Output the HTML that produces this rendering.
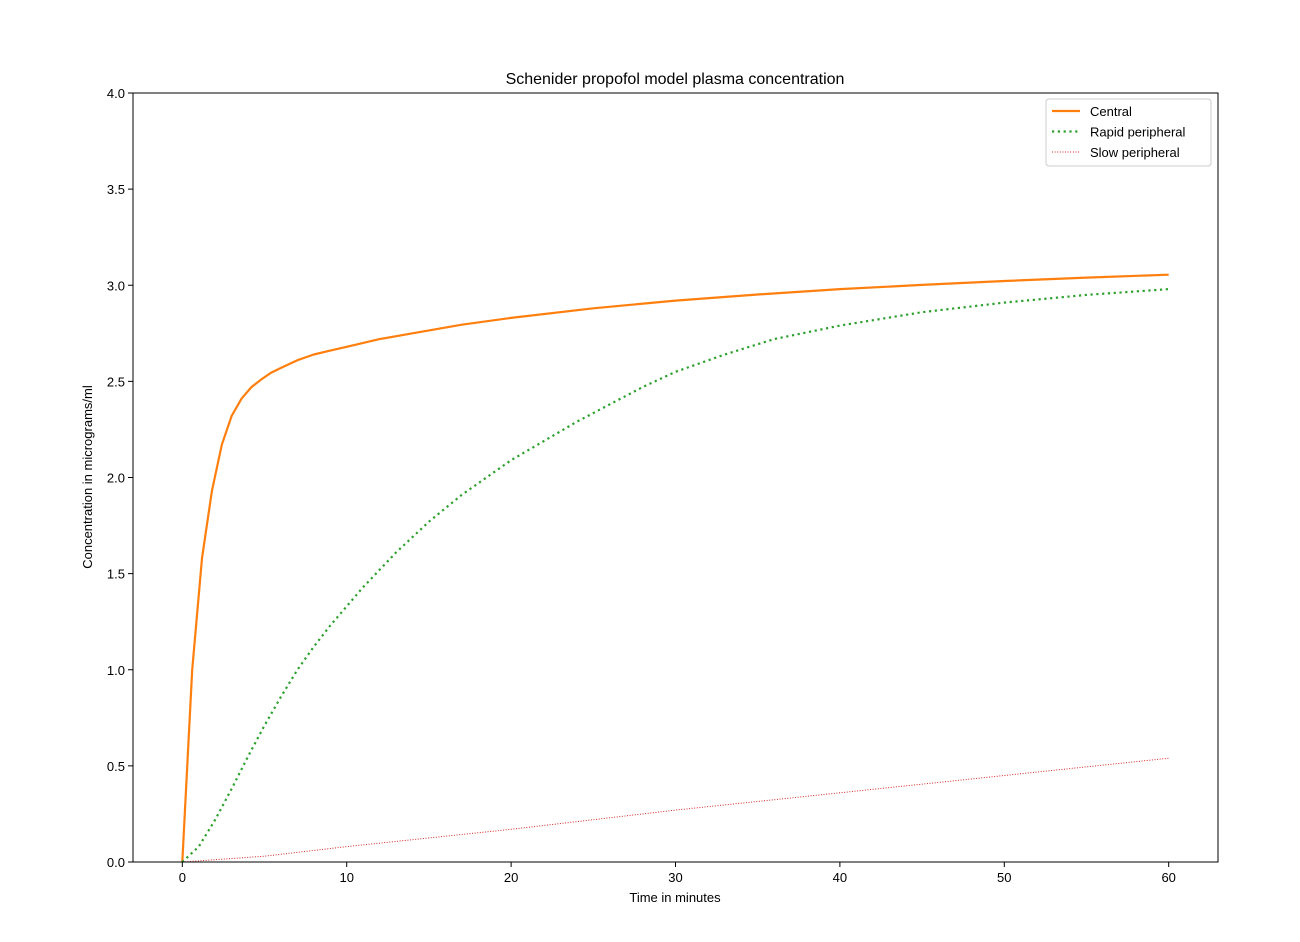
<!DOCTYPE html>
<html><head><meta charset="utf-8"><style>
body{margin:0;background:#fff}
svg text{font-family:"Liberation Sans","DejaVu Sans",sans-serif;fill:#000}
</style></head><body>
<svg id="chart" width="1300" height="937" xmlns="http://www.w3.org/2000/svg">
<rect width="1300" height="937" fill="#fff"/>
<g id="series"></g>
<g id="axes"></g>
</svg>
<script>
const xTicks=[0,10,20,30,40,50,60];
const yTicks=[0.0,0.5,1.0,1.5,2.0,2.5,3.0,3.5,4.0];
const centralT=[0,0.6,1.2,1.8,2.4,3,3.6,4.2,4.8,5.4,6,7,8,9,10,12,14,17,20,25,30,35,40,45,50,55,60];
const centralV=[0,1.0,1.58,1.93,2.17,2.32,2.41,2.47,2.51,2.545,2.57,2.61,2.64,2.66,2.68,2.72,2.75,2.795,2.83,2.88,2.92,2.952,2.98,3.002,3.022,3.04,3.055];
const rapidT=[0,1,2,3,4,5,6,7,8,9,10,11,12,13,14,15,16,17,18,19,20,22,24,26,28,30,33,36,40,45,50,55,60];
const rapidV=[0,0.08,0.22,0.38,0.55,0.71,0.86,1.0,1.12,1.23,1.33,1.43,1.52,1.61,1.69,1.77,1.84,1.91,1.97,2.03,2.09,2.19,2.29,2.38,2.47,2.55,2.64,2.72,2.79,2.86,2.91,2.95,2.98];
const slowT=[0,5,10,20,30,40,50,60];
const slowV=[0,0.03,0.08,0.17,0.27,0.36,0.45,0.54];
const L=133,R=1218,T=93,B=862,xmin=-3,xmax=63,ymin=0,ymax=4;
const sx=v=>L+(v-xmin)/(xmax-xmin)*(R-L);
const sy=v=>B-(v-ymin)/(ymax-ymin)*(B-T);
const NS="http://www.w3.org/2000/svg";
function mk(tag,attrs,parent,text){const e=document.createElementNS(NS,tag);for(const k in attrs)e.setAttribute(k,attrs[k]);if(text!==undefined)e.textContent=text;parent.appendChild(e);return e;}
const S=document.getElementById('series'),A=document.getElementById('axes');
function line(ts,vs,color,w,dash,name){
  const p=mk('path',{d:ts.map((t,i)=>(i?'L':'M')+sx(t).toFixed(1)+','+sy(vs[i]).toFixed(1)).join(''),fill:'none',stroke:color,'stroke-width':w,'stroke-dasharray':dash,'stroke-linejoin':'round'},S);
  
  
}
line(centralT,centralV,'#ff7f0e',2.2,'none','central-line');
line(rapidT,rapidV,'#2ca02c',2.2,'2.2,3.6','rapid-peripheral-line');
line(slowT,slowV,'#d62728',1,'1,1.6','slow-peripheral-line');
const frame=mk('rect',{x:L,y:T,width:R-L,height:B-T,fill:'none',stroke:'#000','stroke-width':1},A);


xTicks.forEach(v=>{const x=sx(v);mk('line',{x1:x,x2:x,y1:B,y2:B+5,stroke:'#000'},A);
  const t=mk('text',{x:x,y:B+20,'text-anchor':'middle','font-size':13},A,String(v));
  
  });
yTicks.forEach(v=>{const y=sy(v);mk('line',{x1:L-5,x2:L,y1:y,y2:y,stroke:'#000'},A);
  const t=mk('text',{x:L-8,y:y+5,'text-anchor':'end','font-size':13},A,v.toFixed(1));
  
  });
let e=mk('text',{x:675,y:84,'text-anchor':'middle','font-size':16},A,'Schenider propofol model plasma concentration');


e=mk('text',{x:675,y:902,'text-anchor':'middle','font-size':13},A,'Time in minutes');


e=mk('text',{x:92,y:477,'text-anchor':'middle','font-size':13,transform:'rotate(-90 92 477)'},A,'Concentration in micrograms/ml');


const lg=mk('g',{},A);


mk('rect',{x:1046,y:99,width:165,height:67,rx:3,fill:'#fff',stroke:'#ccc'},lg);
[['Central','#ff7f0e',2.2,'none'],['Rapid peripheral','#2ca02c',2.2,'2.2,3.6'],['Slow peripheral','#d62728',1,'1,1.6']].forEach((d,i)=>{
  const y=111+i*20.5;
  const g=mk('g',{},lg);
  
  
  mk('line',{x1:1052,x2:1080,y1:y,y2:y,stroke:d[1],'stroke-width':d[2],'stroke-dasharray':d[3]},g);
  mk('text',{x:1090,y:y+5,'font-size':13},g,d[0]);
});
</script>
</body></html>
